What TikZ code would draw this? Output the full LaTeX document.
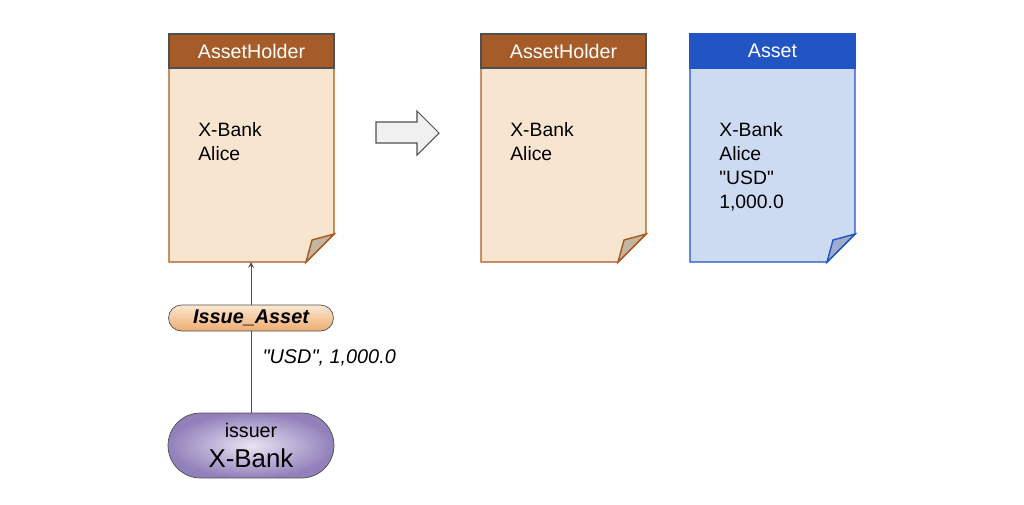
\documentclass[tikz,border=0pt]{standalone}
\usepackage{fontspec}
\setmainfont{Liberation Sans}[Ligatures=TeXOff]
\usepackage{xcolor}
\definecolor{holderhead}{RGB}{166,92,40}
\definecolor{holderbody}{RGB}{248,229,208}
\definecolor{holderline}{RGB}{170,90,30}
\definecolor{holderfold}{RGB}{196,180,160}
\definecolor{assethead}{RGB}{34,85,196}
\definecolor{assetbody}{RGB}{204,219,242}
\definecolor{assetfold}{RGB}{160,172,204}
\definecolor{headline}{RGB}{80,80,80}
\definecolor{choicetop}{RGB}{252,232,210}
\definecolor{choicebot}{RGB}{236,172,112}
\definecolor{partyin}{RGB}{232,228,244}
\definecolor{partyout}{RGB}{146,128,186}
\tikzset{>=stealth,
    header/.style={draw=headline, line width=0.7pt, text=white, font=\fontsize{11.2}{13}\selectfont},
    holder/.style={draw=holderline, fill=holderbody, line width=0.8pt},
    asset/.style={draw=assethead, fill=assetbody, line width=0.8pt},
    fields/.style={anchor=north west, inner sep=0pt, align=left, font=\fontsize{11}{13.6}\selectfont},
    choice/.style={draw=headline, rounded corners=0.26cm, minimum width=3.3cm, minimum height=0.52cm,
        inner sep=1pt, top color=choicetop, bottom color=choicebot, font=\fontsize{11.3}{12}\selectfont\bfseries\itshape},
    party/.style={draw=headline, rounded corners=0.65cm, minimum width=3.32cm, minimum height=1.3cm,
        inner color=partyin, outer color=partyout, align=center}}
\begin{document}
\begin{tikzpicture}[x=0.02cm, y=-0.02cm]
    \useasboundingbox (0,0) rectangle (1024,504);
    % first contract
    \draw[holder] (169,68) -- (334,68) -- (334,234) -- (306,262) -- (169,262) -- cycle;
    \draw[holder, fill=holderfold] (334,234) -- (312,240) -- (306,262) -- cycle;
    \node[header, fill=holderhead, minimum width=3.3cm, minimum height=0.68cm] (h1) at (251.5,51) {AssetHolder};
    \node[fields] (t1) at (198,122) {X-Bank\\Alice};
    \coordinate (d1) at (251,262);
    % second contract
    \draw[holder] (481,68) -- (646,68) -- (646,234) -- (618,262) -- (481,262) -- cycle;
    \draw[holder, fill=holderfold] (646,234) -- (624,240) -- (618,262) -- cycle;
    \node[header, fill=holderhead, minimum width=3.3cm, minimum height=0.68cm] (h2) at (563.5,51) {AssetHolder};
    \node[fields] (t2) at (510,122) {X-Bank\\Alice};
    % asset
    \draw[asset] (690,68) -- (855,68) -- (855,234) -- (827,262) -- (690,262) -- cycle;
    \draw[asset, fill=assetfold] (855,234) -- (833,240) -- (827,262) -- cycle;
    \node[header, draw=assethead, fill=assethead, minimum width=3.3cm, minimum height=0.68cm] (h3) at (772.5,51) {Asset};
    \node[fields] (t3) at (719,122) {X-Bank\\Alice\\"USD"\\1,000.0};
    % transition
    \draw[draw=headline, fill=gray!12, line width=0.6pt] (376,122) -- (417,122) -- (417,111) -- (439,133)
        -- (417,155) -- (417,143) -- (376,143) -- cycle;
    % choice and party
    \node[choice] (ch) at (251,318) {Issue\_Asset};
    \node[party] (iss) at (251,445.5) {{\fontsize{11.2}{12}\selectfont issuer}\\[5pt]{\fontsize{14.7}{16}\selectfont X-Bank}};
    \draw[headline, line width=0.5pt, ->] (ch) -- (d1);
    \draw[headline, line width=0.5pt] (iss) -- (ch)
        node[pos=0.68, right=3pt, text=black, font=\fontsize{11.3}{13}\selectfont\itshape] (arg) {"USD", 1,000.0};
\end{tikzpicture}
\end{document}
